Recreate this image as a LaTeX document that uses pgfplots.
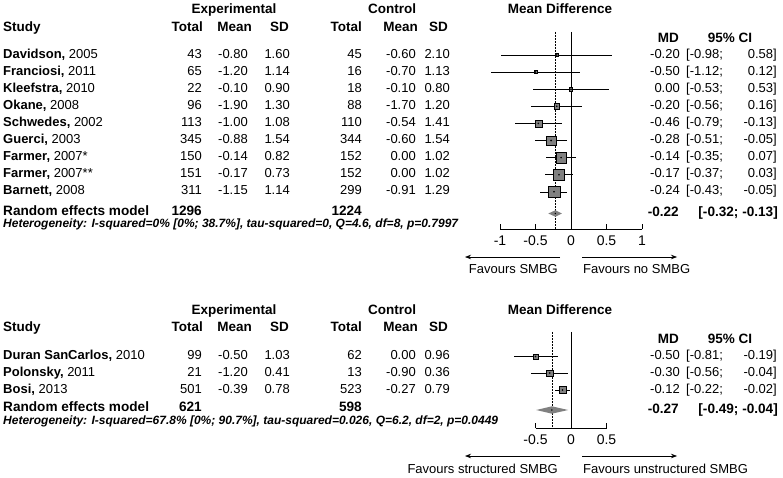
\documentclass[border=0pt]{standalone}
\usepackage{pgfplots}
\pgfplotsset{compat=1.18}
\usepackage{pgfplotstable}
\usepackage{fontspec}
\setmainfont{Liberation Sans}
\usetikzlibrary{arrows.meta}
\definecolor{sq}{RGB}{128,128,128}

% top panel: md, y (row position), lower, upper, half square size
\pgfplotstableread{
md y lo hi s
-0.20 -55.0 -0.98 0.58 1.6
-0.50 -72.1 -1.12 0.12 1.6
0.00 -89.2 -0.53 0.53 1.6
-0.20 -106.3 -0.56 0.16 2.7
-0.46 -123.4 -0.79 -0.13 3.5
-0.28 -140.5 -0.51 -0.05 4.7
-0.14 -157.6 -0.35 0.07 5.2
-0.17 -174.7 -0.37 0.03 5.5
-0.24 -191.8 -0.43 -0.05 5.8
}\topdata
\pgfplotstableread{
md y lo hi s
-0.50 -356.5 -0.81 -0.19 2.7
-0.30 -373.0 -0.56 -0.04 3.1
-0.12 -390.0 -0.22 -0.02 3.6
}\botdata

\newcommand\fs[1]{\fontsize{#1}{#1}\selectfont}
\newcommand\rowL[9]{%
  \node[anchor=base west] at (3,#1) {\textbf{#2} #3};
  \node[anchor=base east] at (202,#1) {#4};
  \node[anchor=base east] at (248,#1) {#5};
  \node[anchor=base east] at (290,#1) {#6};
  \node[anchor=base east] at (362,#1) {#7};
  \node[anchor=base east] at (416,#1) {#8};
  \node[anchor=base east] at (450,#1) {#9};
}
\newcommand\rowR[4]{%
  \node[anchor=base east] at (680,#1) {#2};
  \node[anchor=base west] at (686,#1) {[#3;};
  \node[anchor=base east] at (777,#1) {#4]};
}
\newcommand\headers[1]{%
  \node[anchor=base,font=\fs{13.5}\bfseries] at (234,#1) {Experimental};
  \node[anchor=base,font=\fs{13.5}\bfseries] at (392,#1) {Control};
  \node[anchor=base,font=\fs{13.5}\bfseries] at (560,#1) {Mean Difference};
  \begin{scope}[every node/.append style={font=\fs{13.5}\bfseries}]
  \node[anchor=base west] at (3,#1+17.5) {Study};
  \node[anchor=base east] at (203,#1+17.5) {Total};
  \node[anchor=base east] at (252,#1+17.5) {Mean};
  \node[anchor=base east] at (289,#1+17.5) {SD};
  \node[anchor=base east] at (362,#1+17.5) {Total};
  \node[anchor=base east] at (418,#1+17.5) {Mean};
  \node[anchor=base east] at (448,#1+17.5) {SD};
  \node[anchor=base east] at (679,#1+29) {MD};
  \node[anchor=base] at (730,#1+29) {95\% CI};
  \end{scope}
}

\pgfplotsset{
  forest/.style={
    scale only axis, anchor=south west, clip=false,
    axis x line=bottom, axis y line=none,
    x axis line style={-, line width=0.6pt},
    tick align=inside, major tick length=5pt,
    xtick style={black, line width=0.6pt},
    xticklabel style={font=\fs{14}, inner sep=0pt, yshift=-7pt},
  },
  sqplot/.style={
    only marks, mark=square*, scatter, point meta=x,
    scatter/use mapped color={fill=sq, draw=none},
    visualization depends on={\thisrow{s} \as \msz},
    scatter/@pre marker code/.append style={/tikz/mark size=\msz},
  },
  ciplot/.style={
    only marks, mark=*, mark size=0.6pt, mark options={fill=black!75, draw=none},
    error bars/.cd, x dir=both, x explicit, error mark=none,
    error bar style={black, line width=0.5pt},
  },
}

\begin{document}
\begin{tikzpicture}
\useasboundingbox (0pt,0pt) rectangle (783pt,-478pt);

% ---------- top panel ----------
\begin{axis}[forest,
  at={(500pt,-229pt)}, width=142pt, height=197pt,
  xmin=-1, xmax=1, ymin=-229, ymax=-32,
  xtick={-1,-0.5,0,0.5,1}, xticklabels={-1,-0.5,0,0.5,1},
]
\addplot[black, line width=0.6pt] coordinates {(0,-32) (0,-229)};
\addplot[black, line width=0.6pt, dash pattern=on 1.6pt off 1.4pt] coordinates {(-0.22,-32) (-0.22,-229)};
\addplot[sqplot] table[x=md, y=y] {\topdata};
\addplot[ciplot] table[x=md, y=y,
  x error plus expr=\thisrow{hi}-\thisrow{md},
  x error minus expr=\thisrow{md}-\thisrow{lo}] {\topdata};
\addplot[fill=sq, draw=none] coordinates {(-0.32,-213.5) (-0.22,-210.3) (-0.13,-213.5) (-0.22,-216.7) (-0.32,-213.5)};
\addplot[only marks, mark=*, mark size=0.5pt, mark options={fill=black!75, draw=none}] coordinates {(-0.22,-213.5)};
\end{axis}

% ---------- bottom panel ----------
\begin{axis}[forest,
  at={(535.5pt,-428pt)}, width=71pt, height=96pt,
  xmin=-0.5, xmax=0.5, ymin=-428, ymax=-332,
  xtick={-0.5,0,0.5}, xticklabels={-0.5,0,0.5},
]
\addplot[black, line width=0.6pt] coordinates {(0,-332) (0,-428)};
\addplot[black, line width=0.6pt, dash pattern=on 1.6pt off 1.4pt] coordinates {(-0.27,-332) (-0.27,-428)};
\addplot[sqplot] table[x=md, y=y] {\botdata};
\addplot[ciplot] table[x=md, y=y,
  x error plus expr=\thisrow{hi}-\thisrow{md},
  x error minus expr=\thisrow{md}-\thisrow{lo}] {\botdata};
\addplot[fill=sq, draw=none] coordinates {(-0.49,-410) (-0.27,-406.3) (-0.04,-410) (-0.27,-413.7) (-0.49,-410)};
\addplot[only marks, mark=*, mark size=0.5pt, mark options={fill=black!75, draw=none}] coordinates {(-0.27,-410)};
\end{axis}

\begin{scope}[x=1pt, y=-1pt, every node/.style={inner sep=0pt, font=\fs{13}}]
% top texts
\headers{14}
\rowL{58.1}{Davidson,}{2005}{43}{-0.80}{1.60}{45}{-0.60}{2.10}
\rowL{75.2}{Franciosi,}{2011}{65}{-1.20}{1.14}{16}{-0.70}{1.13}
\rowL{92.3}{Kleefstra,}{2010}{22}{-0.10}{0.90}{18}{-0.10}{0.80}
\rowL{109.4}{Okane,}{2008}{96}{-1.90}{1.30}{88}{-1.70}{1.20}
\rowL{126.5}{Schwedes,}{2002}{113}{-1.00}{1.08}{110}{-0.54}{1.41}
\rowL{143.6}{Guerci,}{2003}{345}{-0.88}{1.54}{344}{-0.60}{1.54}
\rowL{160.7}{Farmer,}{2007*}{150}{-0.14}{0.82}{152}{0.00}{1.02}
\rowL{177.8}{Farmer,}{2007**}{151}{-0.17}{0.73}{152}{0.00}{1.02}
\rowL{194.9}{Barnett,}{2008}{311}{-1.15}{1.14}{299}{-0.91}{1.29}
\rowR{58.1}{-0.20}{-0.98}{0.58}
\rowR{75.2}{-0.50}{-1.12}{0.12}
\rowR{92.3}{0.00}{-0.53}{0.53}
\rowR{109.4}{-0.20}{-0.56}{0.16}
\rowR{126.5}{-0.46}{-0.79}{-0.13}
\rowR{143.6}{-0.28}{-0.51}{-0.05}
\rowR{160.7}{-0.14}{-0.35}{0.07}
\rowR{177.8}{-0.17}{-0.37}{0.03}
\rowR{194.9}{-0.24}{-0.43}{-0.05}
\begin{scope}[every node/.append style={font=\fs{13.6}\bfseries}]
\node[anchor=base west] at (3,215.3) {Random effects model};
\node[anchor=base east] at (202,215.3) {1296};
\node[anchor=base east] at (362,215.3) {1224};
\node[anchor=base east] at (679,216.9) {-0.22};
\node[anchor=base east] at (778,216.9) {[-0.32; -0.13]};
\end{scope}
\node[anchor=base west, font=\fs{12}\bfseries\itshape] at (3,227.6) {Heterogeneity: I-squared=0\% [0\%; 38.7\%], tau-squared=0, Q=4.6, df=8, p=0.7997};
\draw[line width=0.7pt, -{Stealth[length=6pt,width=4.5pt]}] (560,257) -- (465,257);
\draw[line width=0.7pt, -{Stealth[length=6pt,width=4.5pt]}] (582,257) -- (677,257);
\node[anchor=base east, font=\fs{13}] at (558,273.7) {Favours SMBG};
\node[anchor=base west, font=\fs{13}] at (583,273.7) {Favours no SMBG};

% bottom texts
\headers{314}
\rowL{359.6}{Duran SanCarlos,}{2010}{99}{-0.50}{1.03}{62}{0.00}{0.96}
\rowL{376.1}{Polonsky,}{2011}{21}{-1.20}{0.41}{13}{-0.90}{0.36}
\rowL{393.1}{Bosi,}{2013}{501}{-0.39}{0.78}{523}{-0.27}{0.79}
\rowR{359.6}{-0.50}{-0.81}{-0.19}
\rowR{376.1}{-0.30}{-0.56}{-0.04}
\rowR{393.1}{-0.12}{-0.22}{-0.02}
\begin{scope}[every node/.append style={font=\fs{13.6}\bfseries}]
\node[anchor=base west] at (3,411.8) {Random effects model};
\node[anchor=base east] at (202,411.8) {621};
\node[anchor=base east] at (362,411.8) {598};
\node[anchor=base east] at (679,413.4) {-0.27};
\node[anchor=base east] at (778,413.4) {[-0.49; -0.04]};
\end{scope}
\node[anchor=base west, font=\fs{12}\bfseries\itshape] at (3,424.3) {Heterogeneity: I-squared=67.8\% [0\%; 90.7\%], tau-squared=0.026, Q=6.2, df=2, p=0.0449};
\draw[line width=0.7pt, -{Stealth[length=6pt,width=4.5pt]}] (560,456) -- (465,456);
\draw[line width=0.7pt, -{Stealth[length=6pt,width=4.5pt]}] (582,456) -- (677,456);
\node[anchor=base east, font=\fs{13}] at (558,473.7) {Favours structured SMBG};
\node[anchor=base west, font=\fs{13}] at (583,473.7) {Favours unstructured SMBG};
\end{scope}
\end{tikzpicture}
\end{document}
